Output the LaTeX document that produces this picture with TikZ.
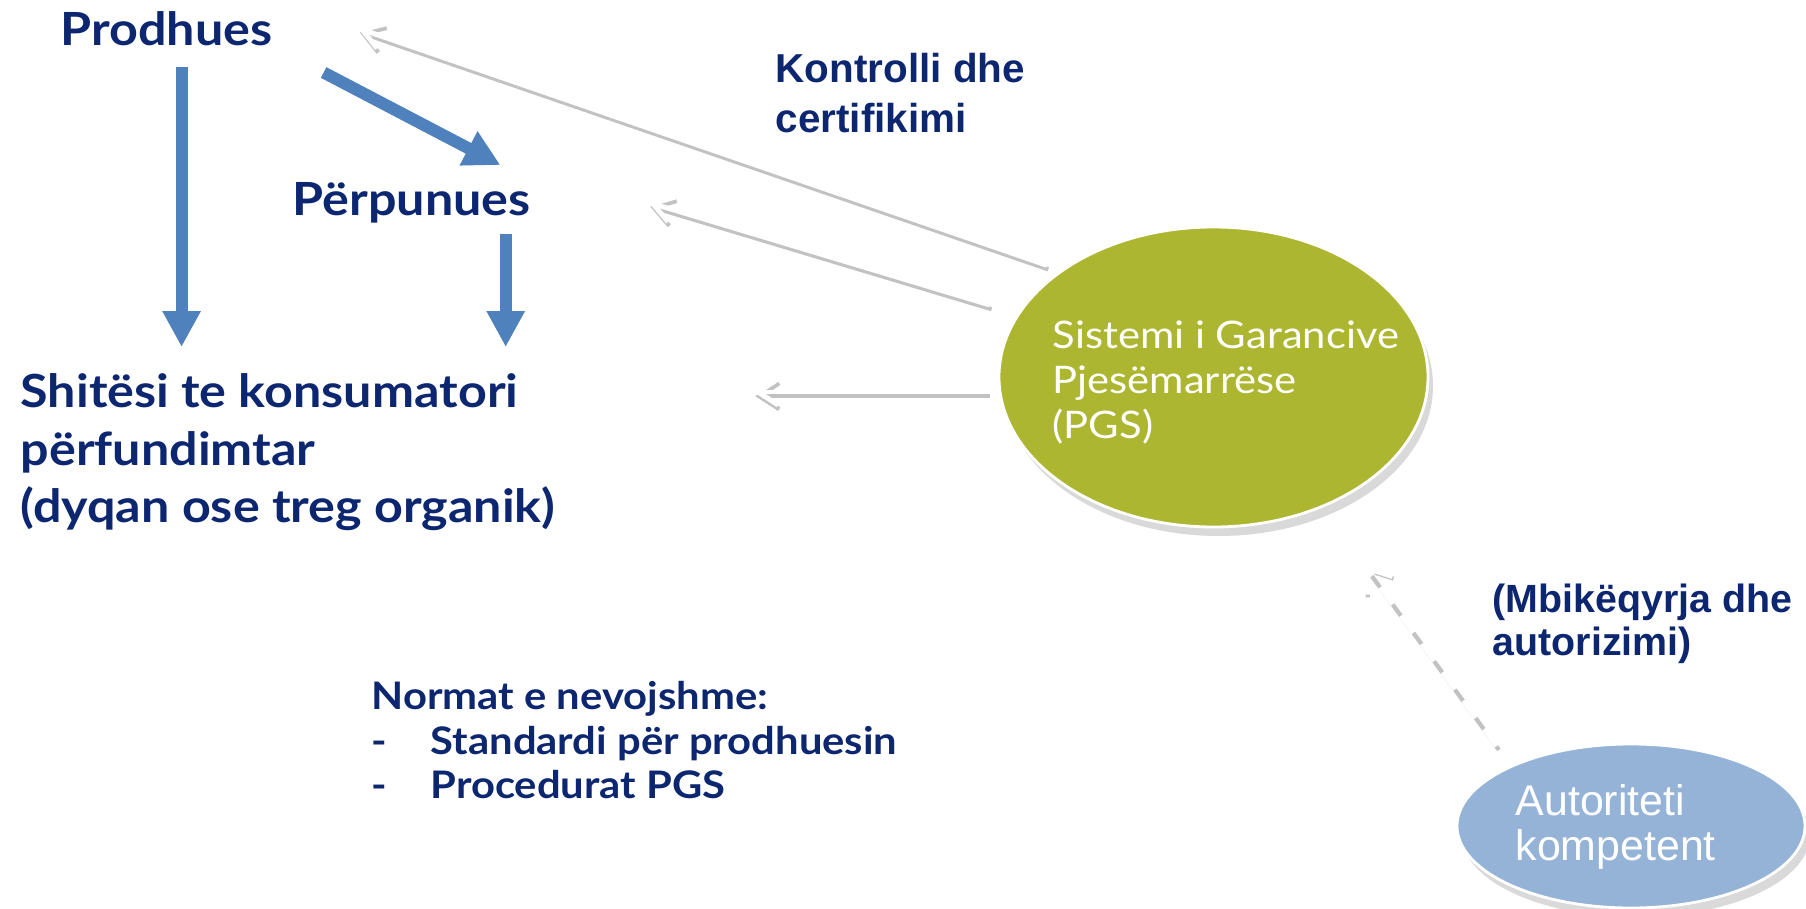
\documentclass[tikz,border=0pt]{standalone}
\usepackage{fontspec}
\setmainfont[FakeStretch=1.1]{Lato}
\newfontfamily\arialfont{Liberation Sans}
\usetikzlibrary{arrows.meta, positioning, shapes.geometric, shadows, calc}

\definecolor{txtblue}{RGB}{13,38,112}
\definecolor{arrblue}{RGB}{79,129,189}
\definecolor{pgsgreen}{RGB}{173,182,48}
\definecolor{authblue}{RGB}{149,179,215}

\begin{document}
\begin{tikzpicture}[
    actor/.style={anchor=base west, inner sep=0pt, text=txtblue, font=\fontsize{13}{16.4}\selectfont\bfseries},
    note/.style={anchor=north west, inner sep=0pt, align=left, text=txtblue},
    flow/.style={draw=arrblue, line width=1.2mm, -{Triangle[length=3.6mm, width=3.6mm]}},
    wline/.style={draw=white, line width=1.4pt, -{Straight Barb[length=2mm, width=2.6mm]},
        preaction={draw=black!24, line width=1.2pt, transform canvas={shift={(0.5pt,-1.2pt)}}}},
    blob/.style={ellipse, draw=white, line width=0.8pt, inner sep=0pt,
        drop shadow={shadow xshift=0.5mm, shadow yshift=-0.9mm, opacity=0.3}},
    blobtext/.style={anchor=west, inner sep=0pt, align=left, text=white}
]
\useasboundingbox (0,0) rectangle (18.06,-9.09);

% Actors of the chain
\node[actor] (prod) at (0.60,-0.45) {Prodhues};
\node[actor] (perp) at (2.92,-2.15) {Përpunues};
\node[actor, anchor=north west, align=left] (shit) at (0.20,-3.73) {Shitësi te konsumatori\\përfundimtar\\(dyqan ose treg organik)};

% Guarantee system and authority
\node[blob, fill=pgsgreen, minimum width=4.29cm, minimum height=3cm] (pgs) at (12.135,-3.77) {};
\node[blobtext, font=\fontsize{10.8}{12.7}\selectfont] (pgs-txt) at (10.52,-3.825) {Sistemi i Garancive\\Pjesëmarrëse\\(PGS)};
\node[blob, fill=authblue, minimum width=3.48cm, minimum height=1.64cm] (auth) at (16.31,-8.26) {};
\node[blobtext, font=\arialfont\fontsize{12.2}{12.8}\selectfont] (auth-txt) at (15.15,-8.27) {Autoriteti\\kompetent};

% Labels
\node[note, font=\arialfont\fontsize{11.5}{14.3}\selectfont\bfseries] (ctrl) at (7.75,-0.525) {Kontrolli dhe\\certifikimi};
\node[note, font=\arialfont\fontsize{11.2}{12.2}\selectfont\bfseries] (mbi) at (14.92,-5.83) {(Mbikëqyrja dhe\\autorizimi)};
\node[note, font=\fontsize{10.8}{12.6}\selectfont\bfseries] (norm) at (3.71,-6.81) {Normat e nevojshme:\\\makebox[5.9mm][l]{-}Standardi për prodhuesin\\\makebox[5.9mm][l]{-}Procedurat PGS};

% Free ends of the control arrows
\coordinate (prod-tip) at ([xshift=8.5mm]prod.east);
\coordinate (perp-tip) at ([xshift=11.7mm]perp.east);
\coordinate (shit-tip) at ([shift={(-2.44,-0.15)}]pgs.west);

% Product flow
\draw[flow, shorten <=2.1mm, shorten >=2.6mm] ([xshift=1.5mm]prod.south) -- ([xshift=1.5mm]prod.south |- shit.north);
\draw[flow, shorten <=5.7mm, shorten >=3.5mm] (prod.south east) -- (perp.north east);
\draw[flow, shorten <=1.1mm, shorten >=2.6mm] ([xshift=9.4mm]perp.south) -- ([xshift=9.4mm]perp.south |- shit.north);

% Control and supervision
\draw[wline, shorten <=1.5mm] (pgs.145) -- (prod-tip);
\draw[wline, shorten <=2.9mm] (pgs.162) -- (perp-tip);
\draw[wline, shorten <=0.9mm] (pgs.west |- shit-tip) -- (shit-tip);
\draw[wline, line width=1.8pt, dash pattern=on 6pt off 4pt, -{Straight Barb[length=2.2mm, width=3.2mm]},
    shorten <=2.4mm, shorten >=6.9mm] (auth.153) -- (pgs.-50);

\end{tikzpicture}
\end{document}
